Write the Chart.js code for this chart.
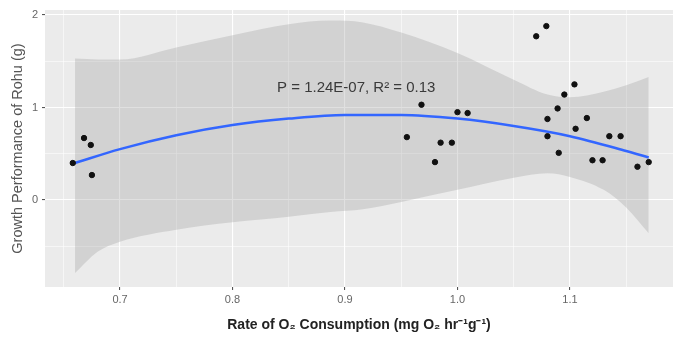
<!DOCTYPE html>
<html>
<head>
<meta charset="utf-8">
<script src="https://cdn.jsdelivr.net/npm/chart.js@4.4.0/dist/chart.umd.min.js"></script>
<style>
  html, body { margin: 0; padding: 0; background: #fff; }
</style>
</head>
<body>
<canvas id="chart" width="674" height="339"></canvas>
<script>
// observed points
const xObs = [0.658, 0.668, 0.674, 0.675,
              0.955, 0.968, 0.980, 0.985, 0.995, 1.000, 1.009,
              1.070, 1.079, 1.080, 1.080, 1.089, 1.090, 1.095, 1.104, 1.105, 1.115, 1.120,
              1.129, 1.135, 1.145, 1.160, 1.170];
const yObs = [0.40, 0.67, 0.595, 0.27,
              0.68, 1.03, 0.41, 0.62, 0.62, 0.95, 0.94,
              1.77, 1.88, 0.876, 0.69, 0.99, 0.51, 1.14, 1.25, 0.77, 0.886, 0.43,
              0.43, 0.69, 0.69, 0.36, 0.41];

// fitted curve
const fitX = [0.66, 0.70, 0.75, 0.80, 0.85, 0.90, 0.95, 1.00, 1.05, 1.10, 1.15, 1.17];
const fitY = [0.40, 0.55, 0.70, 0.81, 0.88, 0.92, 0.92, 0.88, 0.80, 0.69, 0.53, 0.46];

// confidence band
const bandX     = [0.66, 0.68, 0.70, 0.75, 0.80, 0.85, 0.887, 0.916, 0.95, 1.00, 1.05, 1.08, 1.10, 1.13, 1.15, 1.17];
const bandUpper = [1.53, 1.52, 1.52, 1.65, 1.78, 1.90, 1.94, 1.92, 1.81, 1.59, 1.30, 1.14, 1.11, 1.17, 1.24, 1.33];
const bandLower = [-0.79, -0.56, -0.45, -0.32, -0.24, -0.18, -0.13, -0.10, -0.02, 0.11, 0.24, 0.29, 0.25, 0.11, -0.08, -0.36];

// axes
const xTicks = [0.65, 0.70, 0.75, 0.80, 0.85, 0.90, 0.95, 1.00, 1.05, 1.10, 1.15];
const xTickLabels = ['', '0.7', '', '0.8', '', '0.9', '', '1.0', '', '1.1', ''];
const yTicks = [-0.5, 0, 0.5, 1, 1.5, 2];
const yTickLabels = ['', '0', '', '1', '', '2'];

const annotationText = 'P = 1.24E-07, R\u00B2 = 0.13';
const annotationAt = { x: 0.910, y: 1.21 };

const FONT = '"Liberation Sans", Arial, sans-serif';
const toXY = (xs, ys) => xs.map((x, i) => ({ x: x, y: ys[i] }));

const panelBg = {
    id: 'panelBg',
    beforeDraw(chart) {
        const { ctx, chartArea: a } = chart;
        ctx.save();
        ctx.fillStyle = '#ebebeb';
        ctx.fillRect(a.left, a.top, a.right - a.left, a.bottom - a.top);
        ctx.restore();
    }
};

const label = {
    id: 'label',
    afterDatasetsDraw(chart) {
        const { ctx, scales } = chart;
        ctx.save();
        ctx.font = '15px ' + FONT;
        ctx.fillStyle = '#3a3a3a';
        ctx.textAlign = 'center';
        ctx.textBaseline = 'middle';
        ctx.fillText(annotationText, scales.x.getPixelForValue(annotationAt.x), scales.y.getPixelForValue(annotationAt.y));
        ctx.restore();
    }
};

function gridFor(isMajor) {
    return {
        color: '#ffffff',
        lineWidth: c => isMajor(c.tick.value) ? 1.1 : 0.55,
        tickColor: c => isMajor(c.tick.value) ? '#555' : 'rgba(0,0,0,0)',
        tickLength: 3,
        drawTicks: true
    };
}

const xMajor = v => Math.abs(v * 10 - Math.round(v * 10)) < 1e-6;
const yMajor = v => Math.abs(v - Math.round(v)) < 1e-6;

new Chart(document.getElementById('chart'), {
    type: 'scatter',
    data: {
        datasets: [
            {
                data: toXY(xObs, yObs),
                backgroundColor: '#111',
                borderColor: '#111',
                pointRadius: 2.7,
                order: 0
            },
            {
                type: 'line',
                data: toXY(fitX, fitY),
                borderColor: '#3366FF',
                borderWidth: 2.5,
                pointRadius: 0,
                cubicInterpolationMode: 'monotone',
                fill: false,
                order: 1
            },
            {
                type: 'line',
                data: toXY(bandX, bandLower),
                borderWidth: 0,
                borderColor: 'rgba(0,0,0,0)',
                pointRadius: 0,
                cubicInterpolationMode: 'monotone',
                fill: false,
                order: 3
            },
            {
                type: 'line',
                data: toXY(bandX, bandUpper),
                borderWidth: 0,
                borderColor: 'rgba(0,0,0,0)',
                backgroundColor: 'rgba(153,153,153,0.3)',
                pointRadius: 0,
                cubicInterpolationMode: 'monotone',
                fill: '-1',
                order: 2
            }
        ]
    },
    options: {
        responsive: false,
        animation: false,
        devicePixelRatio: 1,
        layout: { autoPadding: false, padding: { top: 10, right: 1, left: 0, bottom: 0 } },
        plugins: { legend: { display: false }, tooltip: { enabled: false } },
        scales: {
            x: {
                type: 'linear',
                min: 0.6333,
                max: 1.1916,
                afterBuildTicks: s => { s.ticks = xTicks.map(v => ({ value: v })); },
                afterFit: s => { s.height = 52; s.paddingLeft = 0; s.paddingRight = 0; },
                border: { display: false },
                grid: gridFor(xMajor),
                ticks: {
                    autoSkip: false,
                    maxRotation: 0,
                    padding: 3,
                    color: '#666',
                    font: { size: 11, family: FONT },
                    callback: (v, i) => xTickLabels[i]
                },
                title: {
                    display: true,
                    text: 'Rate of O\u2082 Consumption (mg O\u2082 hr\u207B\u00B9g\u207B\u00B9)',
                    color: '#222',
                    font: { size: 14, weight: 'bold', family: FONT },
                    padding: { top: 0, bottom: 5 }
                }
            },
            y: {
                type: 'linear',
                min: -0.94,
                max: 2.054,
                afterBuildTicks: s => { s.ticks = yTicks.map(v => ({ value: v })); },
                afterFit: s => { s.width = 45; s.paddingTop = 0; s.paddingBottom = 0; },
                border: { display: false },
                grid: gridFor(yMajor),
                ticks: {
                    autoSkip: false,
                    padding: 4,
                    color: '#666',
                    font: { size: 11, family: FONT },
                    callback: (v, i) => yTickLabels[i]
                },
                title: {
                    display: true,
                    text: 'Growth Performance of Rohu (g)',
                    color: '#555',
                    font: { size: 14.5, family: FONT },
                    padding: { top: 9, bottom: 0 }
                }
            }
        }
    },
    plugins: [panelBg, label]
});
</script>
</body>
</html>
